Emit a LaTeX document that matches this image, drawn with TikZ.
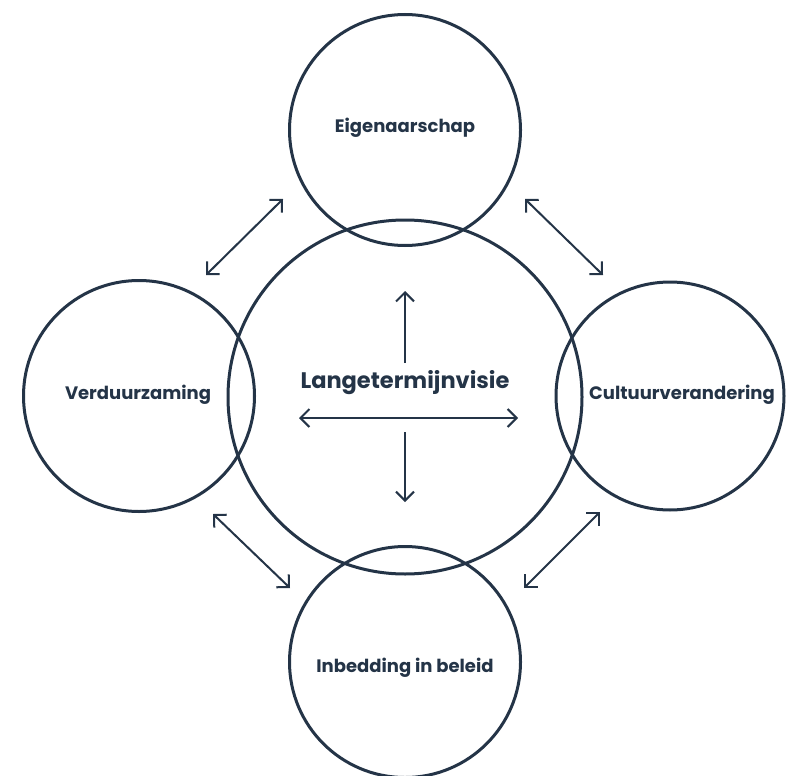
\documentclass[tikz,border=0pt]{standalone}
\usepackage{fontspec}
\setmainfont{Poppins}
\usetikzlibrary{arrows.meta}
\definecolor{navy}{HTML}{243447}

\begin{document}
\begin{tikzpicture}[x=1pt,y=-1pt,
  ring/.style={draw=navy,line width=3pt,circle,inner sep=0pt},
  label/.style={text=navy,font=\bfseries\fontsize{18}{21}\selectfont},
  link/.style={draw=navy,line width=2pt,{Straight Barb[length=9pt,width=18pt]}-{Straight Barb[length=9pt,width=18pt]}},
  ray/.style={draw=navy,line width=2pt,-{Straight Barb[length=9pt,width=18pt]}}]
  \useasboundingbox (0,0) rectangle (787,776);
  % circles
  \node[ring,minimum size=354pt] (visie) at (405,397) {};
  \node[ring,minimum size=231pt] (eigen) at (405,130) {};
  \node[ring,minimum size=231pt] (inbed) at (405,662) {};
  \node[ring,minimum size=231pt] (verduur) at (139,396) {};
  \node[ring,minimum size=228pt] (cultuur) at (670,396) {};
  % texts
  \node[label,font=\bfseries\fontsize{22.5}{26}\selectfont] (tvisie) at (405,383) {Langetermijnvisie};
  \node[label] (teigen) at (405,128) {Eigenaarschap};
  \node[label] (tinbed) at (405,668) {Inbedding in beleid};
  \node[label] (tverduur) at (138,395) {Verduurzaming};
  \node[label] (tcultuur) at (682,395) {Cultuurverandering};
  % arrow ends
  \coordinate (up0) at (405,363);
  \coordinate (up1) at (405,291);
  \coordinate (dn0) at (405,432);
  \coordinate (dn1) at (405,502);
  \coordinate (lt) at (299,418);
  \coordinate (rt) at (518,418);
  \coordinate (tl0) at (206,275);
  \coordinate (tl1) at (283,199);
  \coordinate (tr0) at (525,199);
  \coordinate (tr1) at (603,275);
  \coordinate (bl0) at (213,514);
  \coordinate (bl1) at (290,588);
  \coordinate (br0) at (524,588);
  \coordinate (br1) at (600,512);
  \draw[ray] (up0) -- (up1);
  \draw[ray] (dn0) -- (dn1);
  \draw[link] (lt) -- (rt);
  \draw[link] (tl0) -- (tl1);
  \draw[link] (tr0) -- (tr1);
  \draw[link] (bl0) -- (bl1);
  \draw[link] (br0) -- (br1);
\end{tikzpicture}
\end{document}
